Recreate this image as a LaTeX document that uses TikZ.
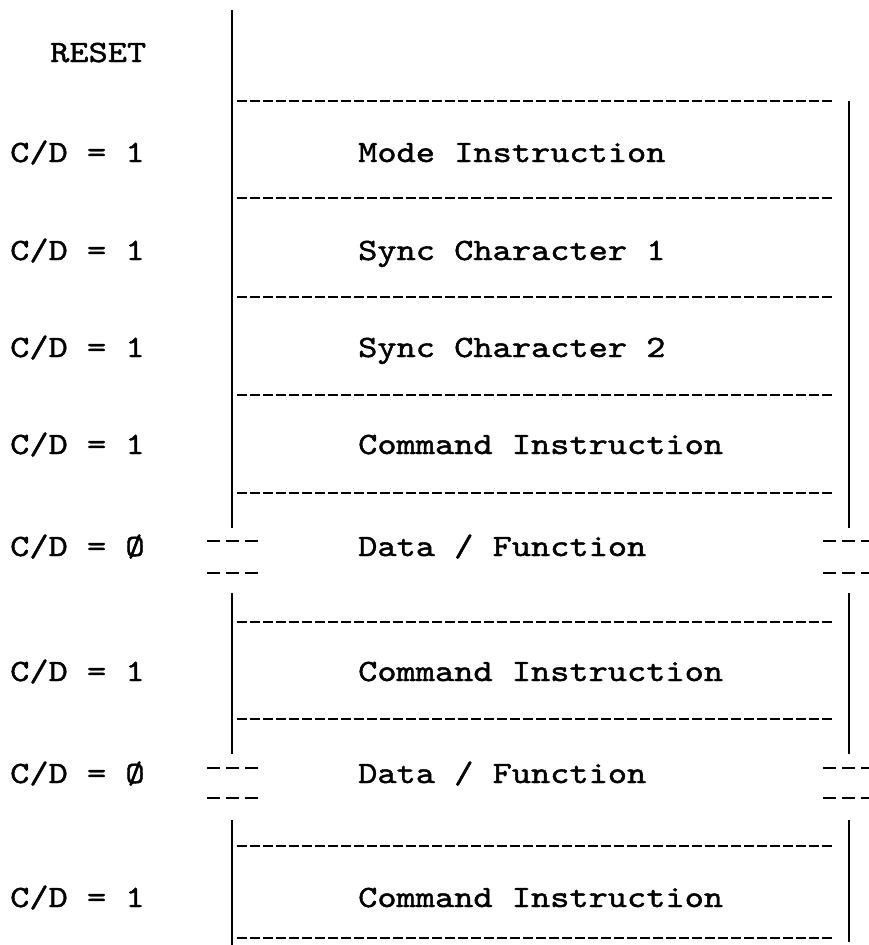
\documentclass[tikz,border=0pt]{standalone}
\usepackage{fontspec}
\newfontfamily\typew{lmmono10-regular.otf}[FakeStretch=1.18,FakeBold=1.4]
\begin{document}
\begin{tikzpicture}[x=1pt,y=-1pt,
  lbl/.style={anchor=base west,inner sep=0pt,font=\typew\fontsize{31}{36}\selectfont},
  vline/.style={line width=2.6pt},
  sepline/.style={line width=1.8pt,dash pattern=on 10pt off 3pt},
  brk/.style={line width=2.2pt,dash pattern=on 13pt off 6pt}]
\useasboundingbox (0,0) rectangle (868,945);
% left labels
\node[lbl] (reset) at (50,62) {RESET};
\node[lbl] (l1) at (10,162) {C/D = 1};
\node[lbl] (l2) at (10,260) {C/D = 1};
\node[lbl] (l3) at (10,357) {C/D = 1};
\node[lbl] (l4) at (10,454) {C/D = 1};
\node[lbl] (l5) at (10,556) {C/D = Ø};
\node[lbl] (l6) at (10,681) {C/D = 1};
\node[lbl] (l7) at (10,783) {C/D = Ø};
\node[lbl] (l8) at (10,907) {C/D = 1};
% box texts
\node[lbl] (t1) at (358,162) {Mode Instruction};
\node[lbl] (t2) at (358,260) {Sync Character 1};
\node[lbl] (t3) at (358,357) {Sync Character 2};
\node[lbl] (t4) at (358,454) {Command Instruction};
\node[lbl] (t5) at (358,556) {Data / Function};
\node[lbl] (t6) at (358,681) {Command Instruction};
\node[lbl] (t7) at (358,783) {Data / Function};
\node[lbl] (t8) at (358,907) {Command Instruction};
% vertical lines
\coordinate (La) at (232,10);  \coordinate (Lb) at (232,528);
\coordinate (Lc) at (232,593); \coordinate (Ld) at (232,754);
\coordinate (Le) at (232,820); \coordinate (Lf) at (232,945);
\coordinate (Ra) at (849,101); \coordinate (Rb) at (849,528);
\coordinate (Rc) at (849,593); \coordinate (Rd) at (849,754);
\coordinate (Re) at (849,820); \coordinate (Rf) at (849,942);
\draw[vline] (La) -- (Lb) (Lc) -- (Ld) (Le) -- (Lf);
\draw[vline] (Ra) -- (Rb) (Rc) -- (Rd) (Re) -- (Rf);
% dashed separators
\foreach \y in {101,198,297,395,493,622,719,846,938}
  \draw[sepline] (237,\y) -- (834,\y);
% break marks
\foreach \y in {541,573,768,798} {
  \draw[brk] (207,\y) -- (259,\y);
  \draw[brk] (823,\y) -- (875,\y);
}
\end{tikzpicture}
\end{document}
